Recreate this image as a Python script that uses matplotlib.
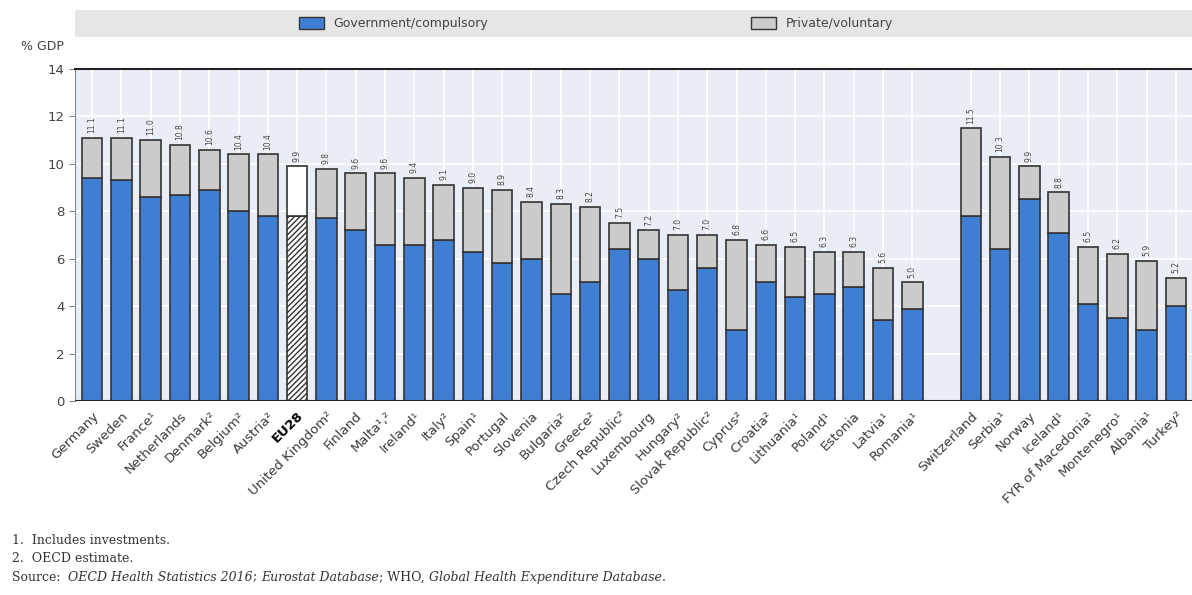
import numpy as np
import matplotlib
matplotlib.use("Agg")
import matplotlib.pyplot as plt
from matplotlib.patches import Rectangle, Patch

# EU member states (plus EU28 average), sorted by total
eu_countries = ["Germany", "Sweden", "France¹", "Netherlands", "Denmark²", "Belgium²",
                "Austria²", "EU28", "United Kingdom²", "Finland", "Malta¹,²", "Ireland¹",
                "Italy²", "Spain¹", "Portugal", "Slovenia", "Bulgaria²", "Greece²",
                "Czech Republic²", "Luxembourg", "Hungary²", "Slovak Republic²", "Cyprus²",
                "Croatia²", "Lithuania¹", "Poland¹", "Estonia", "Latvia¹", "Romania¹"]
eu_total = [11.1, 11.1, 11.0, 10.8, 10.6, 10.4, 10.4, 9.9, 9.8, 9.6, 9.6, 9.4,
            9.1, 9.0, 8.9, 8.4, 8.3, 8.2, 7.5, 7.2, 7.0, 7.0, 6.8, 6.6, 6.5,
            6.3, 6.3, 5.6, 5.0]
eu_gov = [9.4, 9.3, 8.6, 8.7, 8.9, 8.0, 7.8, 7.8, 7.7, 7.2, 6.6, 6.6,
          6.8, 6.3, 5.8, 6.0, 4.5, 5.0, 6.4, 6.0, 4.7, 5.6, 3.0, 5.0, 4.4,
          4.5, 4.8, 3.4, 3.9]

# other European countries
other_countries = ["Switzerland", "Serbia¹", "Norway", "Iceland¹", "FYR of Macedonia¹",
                   "Montenegro¹", "Albania¹", "Turkey²"]
other_total = [11.5, 10.3, 9.9, 8.8, 6.5, 6.2, 5.9, 5.2]
other_gov = [7.8, 6.4, 8.5, 7.1, 4.1, 3.5, 3.0, 4.0]

BLUE = "#3f7fd3"
GREY = "#cbcbcb"
EDGE = "#333333"

labels = eu_countries + other_countries
total = np.array(eu_total + other_total)
gov = np.array(eu_gov + other_gov)
priv = total - gov
# leave one empty slot between the two groups
pos = np.concatenate([np.arange(len(eu_countries)),
                      len(eu_countries) + 1 + np.arange(len(other_countries))])

fig = plt.figure(figsize=(11.92, 5.95), dpi=100)
ax = fig.add_axes([0.063, 0.326, 0.937, 0.558])
ax.set_facecolor("#e9eef6")

w = 0.7
for i, (p, lab) in enumerate(zip(pos, labels)):
    if lab == "EU28":
        ax.bar(p, gov[i], w, color="white", edgecolor=EDGE, hatch="//////", linewidth=1.2, zorder=3)
        ax.bar(p, priv[i], w, bottom=gov[i], color="white", edgecolor=EDGE, linewidth=1.2, zorder=3)
    else:
        ax.bar(p, gov[i], w, color=BLUE, edgecolor=EDGE, linewidth=1.2, zorder=3)
        ax.bar(p, priv[i], w, bottom=gov[i], color=GREY, edgecolor=EDGE, linewidth=1.2, zorder=3)
    ax.text(p, total[i] + 0.2, f"{total[i]:.1f}", rotation=90, ha="center", va="bottom",
            fontsize=5.5, color="#444444")

ax.set_xlim(-0.58, pos[-1] + 0.55)
ax.set_ylim(0, 14)
ax.set_yticks(np.arange(0, 15, 2))
ax.set_xticks(pos)
ax.set_xticklabels(labels, rotation=45, ha="right", rotation_mode="anchor",
                   fontsize=9.5, color="#3a3a3a")
for t in ax.get_xticklabels():
    if t.get_text() == "EU28":
        t.set_fontweight("bold")
        t.set_color("black")
ax.tick_params(axis="x", length=0, pad=6)
ax.tick_params(axis="y", length=4, labelsize=9.5, labelcolor="#444444", color="#888888")
ax.grid(True, color="white", linewidth=1.2, zorder=0)
ax.set_axisbelow(True)
for s in ["right", "bottom"]:
    ax.spines[s].set_visible(False)
ax.spines["top"].set_color("#222222")
ax.spines["top"].set_linewidth(1.5)
ax.spines["left"].set_color("#888888")
ax.axhline(0, color="#222222", linewidth=1.5, zorder=4)

fig.text(0.018, 0.922, "% GDP", fontsize=9, color="#444444", va="center")

# legend band
fig.patches.append(Rectangle((0.063, 0.938), 0.937, 0.045, transform=fig.transFigure,
                             facecolor="#e6e6e6", edgecolor="none", zorder=0))
handles = [Patch(facecolor=BLUE, edgecolor=EDGE, label="Government/compulsory"),
           Patch(facecolor=GREY, edgecolor=EDGE, label="Private/voluntary")]
fig.legend(handles=handles, loc="center", bbox_to_anchor=(0.5, 0.96), ncol=2,
           frameon=False, fontsize=9, columnspacing=21, handlelength=2.0,
           handleheight=1.0, labelcolor="#444444")

# notes
serif = "DejaVu Serif"
fig.text(0.01, 0.091, "1.  Includes investments.", fontsize=9, family=serif, va="center", color="#333333")
fig.text(0.01, 0.061, "2.  OECD estimate.", fontsize=9, family=serif, va="center", color="#333333")
pieces = [("Source:  ", "normal"), ("OECD Health Statistics 2016", "italic"), ("; ", "normal"),
          ("Eurostat Database", "italic"), ("; WHO, ", "normal"),
          ("Global Health Expenditure Database", "italic"), (".", "normal")]
prev = fig.text(0.01, 0.030, pieces[0][0], fontsize=9, family=serif, va="center",
                style=pieces[0][1], color="#333333")
for txt, st in pieces[1:]:
    prev = ax.annotate(txt, xy=(1, 0), xycoords=prev, va="bottom", ha="left", fontsize=9,
                       family=serif, style=st, color="#333333", annotation_clip=False)

fig.savefig("out.png", dpi=100)
